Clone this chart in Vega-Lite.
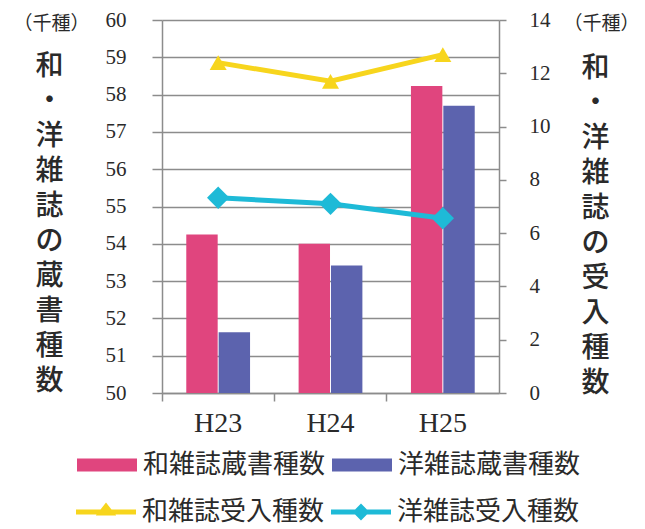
{
  "$schema": "https://vega.github.io/schema/vega-lite/v6.json",
  "width": 337,
  "height": 373,
  "autosize": {"type": "none"},
  "padding": {"left": 162, "top": 20, "right": 146, "bottom": 136},
  "background": "#ffffff",
  "config": {
    "view": {"stroke": null},
    "axis": {
      "labelFont": "Liberation Serif",
      "labelFontSize": 21,
      "labelColor": "#2a2a2a",
      "titleFont": "Noto Sans CJK JP",
      "titleColor": "#2a2a2a",
      "domainColor": "#8c8c8c",
      "domainWidth": 1.5,
      "tickColor": "#8c8c8c",
      "tickWidth": 1.5,
      "gridColor": "#8c8c8c",
      "gridWidth": 1.5,
      "gridOpacity": 1
    },
    "legend": {
      "labelFont": "Noto Sans CJK JP",
      "labelFontSize": 26,
      "labelColor": "#2a2a2a",
      "labelLimit": 400,
      "labelOffset": 6,
      "columnPadding": 6,
      "padding": 0,
      "title": null
    }
  },
  "datasets": {
    "holdings": [
      {"year": "H23", "series": "和雑誌蔵書種数", "value": 54.25},
      {"year": "H23", "series": "洋雑誌蔵書種数", "value": 51.63},
      {"year": "H24", "series": "和雑誌蔵書種数", "value": 54.0},
      {"year": "H24", "series": "洋雑誌蔵書種数", "value": 53.42},
      {"year": "H25", "series": "和雑誌蔵書種数", "value": 58.23},
      {"year": "H25", "series": "洋雑誌蔵書種数", "value": 57.7}
    ],
    "accessions": [
      {"year": "H23", "series": "和雑誌受入種数", "value": 12.4},
      {"year": "H24", "series": "和雑誌受入種数", "value": 11.7},
      {"year": "H25", "series": "和雑誌受入種数", "value": 12.7},
      {"year": "H23", "series": "洋雑誌受入種数", "value": 7.33},
      {"year": "H24", "series": "洋雑誌受入種数", "value": 7.1},
      {"year": "H25", "series": "洋雑誌受入種数", "value": 6.56}
    ]
  },
  "encoding": {
    "x": {
      "field": "year",
      "type": "nominal",
      "sort": ["H23", "H24", "H25"],
      "scale": {"paddingInner": 0, "paddingOuter": 0},
      "axis": {
        "title": null,
        "labelAngle": 0,
        "labelFont": "Liberation Serif",
        "labelFontSize": 28,
        "labelBaseline": "top",
        "labelPadding": 8,
        "bandPosition": 0,
        "tickSize": 8
      }
    }
  },
  "layer": [
    {
      "data": {"name": "holdings"},
      "transform": [{"filter": "datum.series === '和雑誌蔵書種数'"}],
      "mark": {"type": "bar"},
      "encoding": {
        "xOffset": {
          "field": "series",
          "type": "nominal",
          "scale": {"domain": ["和雑誌蔵書種数", "洋雑誌蔵書種数"], "paddingInner": 0.03, "paddingOuter": 0.75}
        },
        "y": {
          "field": "value",
          "type": "quantitative",
          "scale": {"domain": [50, 60], "zero": false, "nice": false, "clamp": true},
          "axis": {
            "orient": "left",
            "values": [50, 51, 52, 53, 54, 55, 56, 57, 58, 59, 60],
            "grid": true,
            "tickSize": 10,
            "labelPadding": 26,
            "labelFont": "Liberation Serif",
            "labelFontSize": 21,
            "title": "（千種）",
            "titleFontSize": 19,
            "titleFontWeight": "normal",
            "titleAngle": 0,
            "titleAlign": "left",
            "titleBaseline": "middle",
            "titleX": -149,
            "titleY": 3
          }
        },
        "fill": {
          "field": "series",
          "type": "nominal",
          "scale": {"domain": ["和雑誌蔵書種数", "洋雑誌蔵書種数"], "range": ["#e0457e", "#5c63ae"]},
          "legend": {
            "orient": "none",
            "direction": "horizontal",
            "columns": 2,
            "legendX": -85,
            "legendY": 415,
            "symbolType": "M-1,-0.22H1V0.22H-1Z",
            "symbolSize": 3600,
            "symbolStrokeWidth": 0
          }
        }
      }
    },
    {
      "data": {"name": "holdings"},
      "transform": [{"filter": "datum.series === '洋雑誌蔵書種数'"}],
      "mark": {"type": "bar"},
      "encoding": {
        "xOffset": {
          "field": "series",
          "type": "nominal",
          "scale": {"domain": ["和雑誌蔵書種数", "洋雑誌蔵書種数"], "paddingInner": 0.03, "paddingOuter": 0.75}
        },
        "y": {
          "field": "value",
          "type": "quantitative",
          "scale": {"domain": [50, 60], "zero": false, "nice": false, "clamp": true},
          "axis": {
            "orient": "left",
            "labels": false,
            "ticks": false,
            "domain": false,
            "grid": false,
            "title": ["和", "・", "洋", "雑", "誌", "の", "蔵", "書", "種", "数"],
            "titleFontSize": 28,
            "titleFontWeight": 500,
            "titleLineHeight": 35,
            "titleAngle": 0,
            "titleAlign": "center",
            "titleBaseline": "middle",
            "titleX": -113,
            "titleY": 46.5
          }
        },
        "fill": {"field": "series", "type": "nominal"}
      }
    },
    {
      "data": {"name": "accessions"},
      "transform": [{"filter": "datum.series === '和雑誌受入種数'"}],
      "encoding": {
        "y": {
          "field": "value",
          "type": "quantitative",
          "scale": {"domain": [0, 14], "nice": false},
          "axis": {
            "orient": "right",
            "values": [0, 2, 4, 6, 8, 10, 12, 14],
            "grid": false,
            "tickSize": 7,
            "labelPadding": 23,
            "labelFont": "Liberation Serif",
            "labelFontSize": 21,
            "title": "（千種）",
            "titleFontSize": 19,
            "titleFontWeight": "normal",
            "titleAngle": 0,
            "titleAlign": "left",
            "titleBaseline": "middle",
            "titleX": 64,
            "titleY": 3
          }
        }
      },
      "layer": [
        {
          "mark": {"type": "line", "strokeWidth": 5},
          "encoding": {
            "stroke": {
              "field": "series",
              "type": "nominal",
              "scale": {"domain": ["和雑誌受入種数", "洋雑誌受入種数"], "range": ["#f7d51d", "#1ebad7"]},
              "legend": {
                "orient": "none",
                "direction": "horizontal",
                "columns": 2,
                "legendX": -86,
                "legendY": 462,
                "symbolSize": 3600,
                "encode": {
                  "symbols": {
                    "update": {
                      "shape": {"signal": "datum.value === '和雑誌受入種数' ? 'M-1,-0.08H1V0.08H-1Z M0,-0.32L0.34,0.12L-0.34,0.12Z' : 'M-1,-0.08H1V0.08H-1Z M0,-0.28L0.28,0L0,0.28L-0.28,0Z'"},
                      "fill": {"signal": "datum.value === '和雑誌受入種数' ? '#f7d51d' : '#1ebad7'"},
                      "fillOpacity": {"value": 1},
                      "strokeWidth": {"value": 0}
                    }
                  }
                }
              }
            }
          }
        },
        {
          "mark": {"type": "point", "shape": "triangle-up", "filled": true, "size": 290, "color": "#f7d51d", "opacity": 1}
        }
      ]
    },
    {
      "data": {"name": "accessions"},
      "transform": [{"filter": "datum.series === '洋雑誌受入種数'"}],
      "encoding": {
        "y": {
          "field": "value",
          "type": "quantitative",
          "scale": {"domain": [0, 14], "nice": false},
          "axis": {
            "orient": "right",
            "labels": false,
            "ticks": false,
            "domain": false,
            "grid": false,
            "title": ["和", "・", "洋", "雑", "誌", "の", "受", "入", "種", "数"],
            "titleFontSize": 28,
            "titleFontWeight": 500,
            "titleLineHeight": 35,
            "titleAngle": 0,
            "titleAlign": "center",
            "titleBaseline": "middle",
            "titleX": 96,
            "titleY": 48
          }
        }
      },
      "layer": [
        {
          "mark": {"type": "line", "strokeWidth": 5},
          "encoding": {"stroke": {"field": "series", "type": "nominal"}}
        },
        {
          "mark": {"type": "point", "shape": "diamond", "filled": true, "size": 500, "color": "#1ebad7", "opacity": 1}
        }
      ]
    }
  ],
  "resolve": {"scale": {"y": "independent"}}
}
